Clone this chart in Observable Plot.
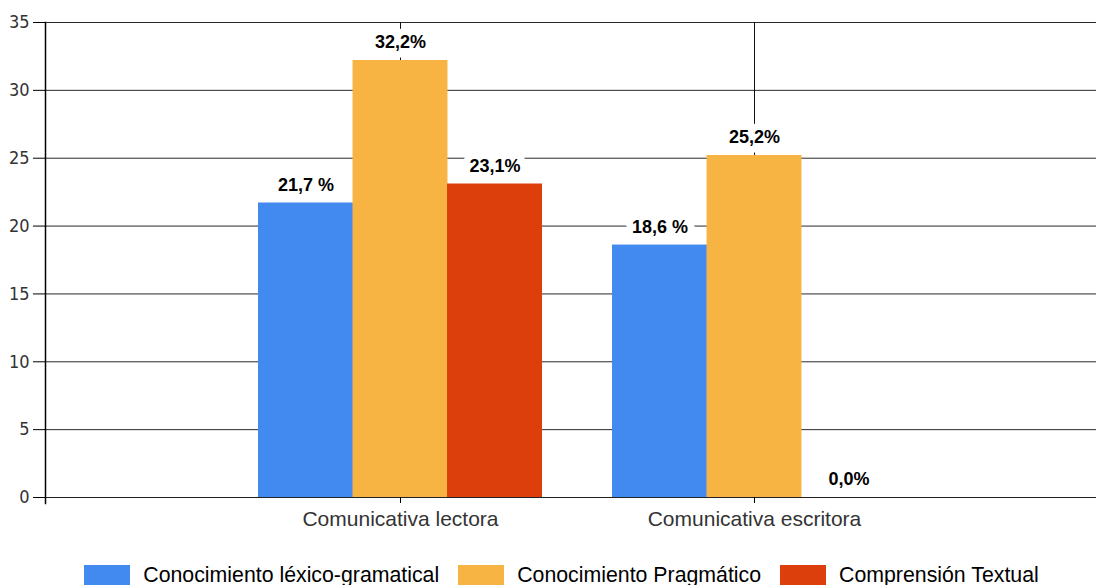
<!DOCTYPE html>
<html>
<head>
<meta charset="utf-8">
<script src="https://cdn.jsdelivr.net/npm/d3@7"></script>
<script src="https://cdn.jsdelivr.net/npm/@observablehq/plot@0.6"></script>
<style>
  html, body { margin: 0; padding: 0; background: #fff; }
  #chart svg { display: block; }
  .lg-swatch > svg { margin-right: 13px !important; }
  .lg-swatch { margin-right: 19px !important; }
</style>
</head>
<body>
<div id="chart"></div>
<script>
const categories = ["Comunicativa lectora", "Comunicativa escritora"];
const seriesNames = ["Conocimiento léxico-gramatical", "Conocimiento Pragmático", "Comprensión Textual"];
const seriesColors = ["#4289F0", "#F8B443", "#DC3E0C"];
const lectoraValues = [21.7, 32.2, 23.1];
const escritoraValues = [18.6, 25.2, 0.0];
const lectoraLabels = ["21,7 %", "32,2%", "23,1%"];
const escritoraLabels = ["18,6 %", "25,2%", "0,0%"];
const yTicks = [0, 5, 10, 15, 20, 25, 30, 35];

const valuesByCat = [lectoraValues, escritoraValues];
const labelsByCat = [lectoraLabels, escritoraLabels];
const rows = [];
categories.forEach((c, i) => seriesNames.forEach((s, j) => {
  rows.push({cat: c, series: s, sIndex: j, value: valuesByCat[i][j], label: labelsByCat[i][j]});
}));

const font = "'Liberation Sans', Arial, sans-serif";
const narrow = "'Liberation Sans Narrow', 'DejaVu Sans Condensed', 'Liberation Sans', sans-serif";

// group band geometry: the band of each category holds its three bars side by side
const groupRange = [223, 931];
const groupPadInner = 0.199;
const groupPadOuter = 0.0995;
const bandW = (groupRange[1] - groupRange[0]) / (2 - groupPadInner + 2 * groupPadOuter) * (1 - groupPadInner);
const barW = bandW / seriesNames.length;

const seriesMarks = seriesNames.map((s, j) => {
  const data = rows.filter(r => r.sIndex === j);
  const left = j * barW, right = (seriesNames.length - 1 - j) * barW;
  return Plot.barY(data, {x: "cat", y: "value", fill: "series", insetLeft: left, insetRight: right});
});
const labelMarks = seriesNames.map((s, j) => {
  const data = rows.filter(r => r.sIndex === j);
  const offset = (j - (seriesNames.length - 1) / 2) * barW;
  return Plot.text(data, {x: "cat", y: "value", text: "label", dx: offset, dy: -18,
    fontSize: 18, fontWeight: "bold", fill: "#000", stroke: "#fff", strokeWidth: 14,
    fontFamily: font});
});

const chart = Plot.plot({
  width: 1096,
  height: 545,
  marginLeft: 45,
  marginRight: 0,
  marginTop: 22,
  marginBottom: 48,
  style: {fontFamily: font, fontSize: "14px", background: "#fff", overflow: "visible"},
  x: {domain: categories, range: groupRange, paddingInner: groupPadInner, paddingOuter: groupPadOuter, label: null},
  y: {domain: [0, 35], label: null},
  color: {domain: seriesNames, range: seriesColors},
  marks: [
    Plot.ruleY(yTicks, {stroke: "#2a2a2a", strokeWidth: 1}),
    Plot.ruleX(categories, {x: d => d, stroke: "#111", strokeWidth: 1}),
    ...seriesMarks,
    Plot.ruleY([0], {stroke: "#222", strokeWidth: 1.2}),
    ...labelMarks,
    Plot.frame({anchor: "left", stroke: "#000", strokeWidth: 1.5, insetBottom: -6}),
    Plot.axisY({ticks: yTicks, tickSize: 12, tickPadding: 4, stroke: "#000",
      fill: "#333", fontSize: 18, fontFamily: narrow, tickFormat: d => String(d), label: null}),
    Plot.axisX({tickSize: 6, tickPadding: 8, fontSize: 21, fill: "#333", stroke: "#000",
      fontFamily: font, label: null})
  ]
});

const legend = Plot.legend({
  legend: "swatches",
  color: {domain: seriesNames, range: seriesColors},
  swatchWidth: 46,
  swatchHeight: 22,
  className: "lg",
  style: {fontFamily: font, fontSize: "21.3px", color: "#000"}
});
legend.style.justifyContent = "center";
legend.style.marginTop = "14px";
legend.style.marginLeft = "46px";

const root = document.getElementById("chart");
root.appendChild(chart);
root.appendChild(legend);
</script>
</body>
</html>
